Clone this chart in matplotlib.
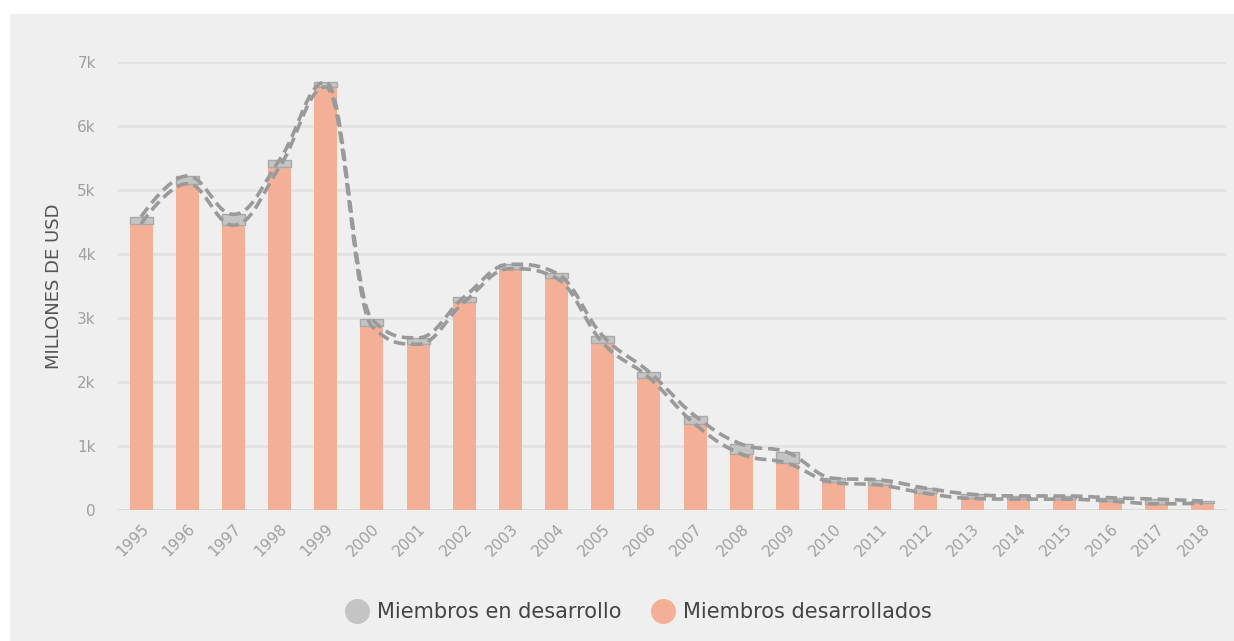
import numpy as np
import matplotlib.pyplot as plt
from matplotlib.patches import Rectangle
from matplotlib.lines import Line2D

years = [str(y) for y in range(1995, 2019)]
# millones de USD
desarrollados = [4470, 5100, 4450, 5360, 6610, 2870, 2590, 3250, 3770, 3620, 2610, 2070,
                 1340, 875, 730, 430, 390, 260, 180, 170, 170, 140, 95, 105]
en_desarrollo = [110, 120, 170, 110, 80, 110, 100, 80, 70, 80, 110, 90,
                 130, 155, 170, 65, 80, 80, 65, 50, 50, 50, 75, 35]

ORANGE = '#f4b096'
GREY = '#c4c4c4'
BG = '#efefef'


def spline_path(x, y, smoothing=1.5):
    # cubic bezier through the points, same control-point rule as a highcharts spline
    x = np.asarray(x, float)
    y = np.asarray(y, float)
    n = len(x)
    left = [(x[i], y[i]) for i in range(n)]
    right = [(x[i], y[i]) for i in range(n)]
    d = smoothing + 1
    for i in range(1, n - 1):
        lx = (smoothing * x[i] + x[i - 1]) / d
        ly = (smoothing * y[i] + y[i - 1]) / d
        rx = (smoothing * x[i] + x[i + 1]) / d
        ry = (smoothing * y[i] + y[i + 1]) / d
        if rx != lx:
            corr = (ry - ly) * (rx - x[i]) / (rx - lx) + y[i] - ry
            ly += corr
            ry += corr
        if ly > y[i - 1] and ly > y[i]:
            ly = max(y[i - 1], y[i]); ry = 2 * y[i] - ly
        elif ly < y[i - 1] and ly < y[i]:
            ly = min(y[i - 1], y[i]); ry = 2 * y[i] - ly
        if ry > y[i + 1] and ry > y[i]:
            ry = max(y[i + 1], y[i]); ly = 2 * y[i] - ry
        elif ry < y[i + 1] and ry < y[i]:
            ry = min(y[i + 1], y[i]); ly = 2 * y[i] - ry
        left[i] = (lx, ly)
        right[i] = (rx, ry)
    t = np.linspace(0, 1, 30)[:, None]
    pts = []
    for i in range(n - 1):
        p0 = np.array([x[i], y[i]])
        p1 = np.array(right[i])
        p2 = np.array(left[i + 1])
        p3 = np.array([x[i + 1], y[i + 1]])
        seg = ((1 - t) ** 3) * p0 + 3 * ((1 - t) ** 2) * t * p1 + 3 * (1 - t) * t ** 2 * p2 + t ** 3 * p3
        pts.append(seg if i == 0 else seg[1:])
    pts = np.vstack(pts)
    return pts[:, 0], pts[:, 1]


plt.rcParams['font.family'] = ['DejaVu Sans']

fig = plt.figure(figsize=(12.34, 6.41), dpi=100, facecolor='white')
fig.patches.append(Rectangle((10 / 1234, 0), 1, 1 - 14 / 641, transform=fig.transFigure,
                             facecolor=BG, edgecolor='none', zorder=-10))

ax = fig.add_axes([118 / 1234, 1 - 510 / 641, (1226 - 118) / 1234, (510 - 62) / 641])
ax.set_facecolor(BG)

x = np.arange(len(years))
dev = np.array(desarrollados)
ind = np.array(en_desarrollo)
total = dev + ind

ax.bar(x, dev, width=0.5, color=ORANGE, edgecolor='none', zorder=2)
ax.bar(x, ind, bottom=dev, width=0.5, color=GREY, edgecolor='#a9a9a9', linewidth=1, zorder=2)

for series in (dev, total):
    sx, sy = spline_path(x, series)
    ax.plot(sx, sy, color='#9a9a9a', lw=2.6, ls=(0, (3.2, 1.6)), zorder=3)

ax.set_xlim(-0.5, len(years) - 0.5)
ax.set_ylim(0, 7000)
ax.set_yticks(np.arange(0, 7001, 1000))
ax.set_yticklabels(['0'] + [f'{k}k' for k in range(1, 8)])
ax.set_xticks(x)
ax.set_xticklabels(years, rotation=45, ha='right', rotation_mode='anchor')
ax.tick_params(axis='both', length=0, labelsize=11, labelcolor='#a0a0a0')
ax.tick_params(axis='y', pad=16)
ax.tick_params(axis='x', pad=8)
ax.grid(axis='y', color='#e2e2e2', lw=2)
ax.set_axisbelow(True)
for s in ax.spines.values():
    s.set_visible(False)
ax.axhline(0, color='#d9d9d9', lw=2, zorder=1)
ax.set_ylabel('MILLONES DE USD', fontsize=13, color='#555555', labelpad=10)

handles = [Line2D([], [], ls='none', marker='o', ms=18, mfc=GREY, mec='none'),
           Line2D([], [], ls='none', marker='o', ms=18, mfc=ORANGE, mec='none')]
fig.legend(handles, ['Miembros en desarrollo', 'Miembros desarrollados'],
           loc='center', bbox_to_anchor=(638 / 1234, 1 - 612 / 641), ncol=2, frameon=False,
           fontsize=15, labelcolor='#444444', handletextpad=0.35, columnspacing=1.4,
           handlelength=1.2)

fig.savefig('out.png', dpi=100, facecolor='white')
